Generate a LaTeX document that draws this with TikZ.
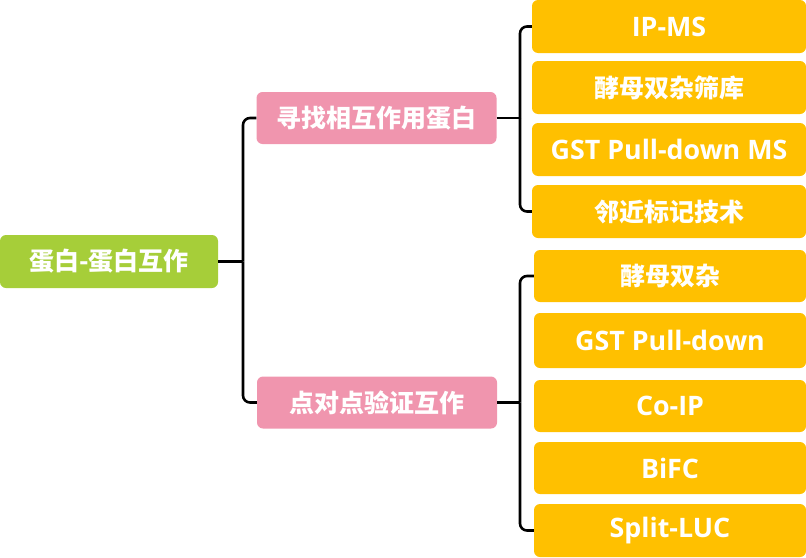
\documentclass[tikz,border=0pt]{standalone}
\usepackage{fontspec}
\setmainfont{Open Sans}
\newfontfamily\cjk{Noto Sans CJK SC}
\begin{document}
\begin{tikzpicture}[x=1pt,y=-1pt,
  box/.style={rounded corners=6pt, inner sep=0pt, text=white, anchor=center},
  zh/.style={font=\cjk\bfseries\fontsize{25}{28}\selectfont},
  en/.style={font=\bfseries\fontsize{26.8}{30}\selectfont},
  rootbox/.style={box, zh, fill=rootgreen, minimum width=218pt, minimum height=53pt},
  midbox/.style={box, zh, fill=midpink, minimum width=240pt, minimum height=52pt},
  leafbox/.style={box, fill=leafyellow, minimum height=53pt},
  conn/.style={line width=2.6pt, black, rounded corners=7pt}]
\definecolor{rootgreen}{HTML}{A6CE39}
\definecolor{midpink}{HTML}{F095AE}
\definecolor{leafyellow}{HTML}{FFC000}
\useasboundingbox (0,0) rectangle (806,557);
% root
\node[rootbox] (root) at (109,261.5) {蛋白-蛋白互作};
% middle
\node[midbox] (p1) at (376.5,118) {寻找相互作用蛋白};
\node[midbox] (p2) at (377,402.5) {点对点验证互作};
% leaves group 1
\node[leafbox, en, minimum width=274pt] (a1) at (669,26.5) {IP-MS};
\node[leafbox, zh, minimum width=274pt] (a2) at (669,87.5) {酵母双杂筛库};
\node[leafbox, en, minimum width=274pt] (a3) at (669,149.5) {GST Pull-down MS};
\node[leafbox, zh, minimum width=274pt] (a4) at (669,211.5) {邻近标记技术};
% leaves group 2
\node[leafbox, zh, minimum width=272pt, minimum height=52pt] (b1) at (670,276) {酵母双杂};
\node[leafbox, en, minimum width=272pt, minimum height=55pt] (b2) at (670,340.5) {GST Pull-down};
\node[leafbox, en, minimum width=272pt, minimum height=52pt] (b3) at (670,406) {Co-IP};
\node[leafbox, en, minimum width=272pt, minimum height=52pt] (b4) at (670,468) {BiFC};
\node[leafbox, en, minimum width=272pt, minimum height=53pt] (b5) at (670,530.5) {Split-LUC};
% connectors
\coordinate (t0) at (243,261.5);
\coordinate (t1) at (520,118);
\coordinate (t2) at (520,402.5);
\draw[conn] (root.east) -- (t0);
\draw[conn] (t0) |- (p1.west);
\draw[conn] (t0) |- (p2.west);
\draw[conn] (p1.east) -- (t1);
\draw[conn] (t1) |- (a1.west);
\draw[conn] (t1) |- (a4.west);
\draw[conn] (p2.east) -- (t2);
\draw[conn] (t2) |- (b1.west);
\draw[conn] (t2) |- (b5.west);
\end{tikzpicture}
\end{document}
